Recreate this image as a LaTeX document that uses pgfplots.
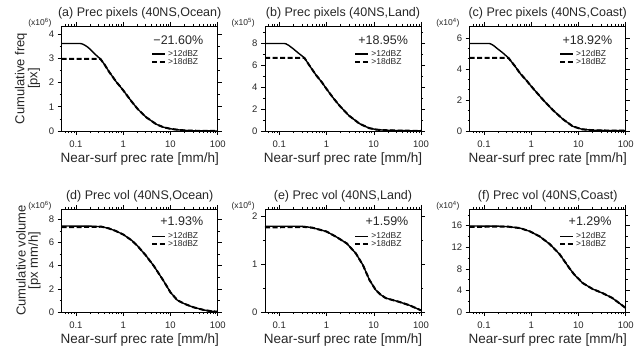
\documentclass[border=0pt]{standalone}
\usepackage{fontspec}
\setmainfont{Liberation Sans}
\usepackage{pgfplots}
\pgfplotsset{compat=1.18}
\colorlet{txt}{black!85}
\tikzset{
  s12/.style={black, line width=1.4pt},
  s18/.style={black, line width=2pt, dash pattern=on 5pt off 2.5pt},
  l18/.style={black, dash pattern=on 3.5pt off 2.5pt},
  pct/.style={anchor=east, inner sep=0pt, text=txt, font=\fontsize{12.5}{13}\selectfont},
  mult/.style={anchor=east, inner sep=0pt, xshift=-10pt, yshift=3pt, text=txt, font=\fontsize{8.5}{8.5}\selectfont},
}
\pgfplotsset{
    scale only axis, width=156pt,
    xmin=0.05, xmax=100, ymin=0,
    xtick={0.1,1,10,100}, xticklabels={0.1,1,10,100},
    minor xtick={0.06,0.07,0.08,0.09,0.2,0.3,0.4,0.5,0.6,0.7,0.8,0.9,2,3,4,5,6,7,8,9,20,30,40,50,60,70,80,90},
    tick align=outside, major tick length=4pt, minor tick length=2.2pt,
    tick style={black, line width=0.5pt},
    axis line style={line width=0.6pt},
    tick label style={font=\fontsize{9.5}{10}\selectfont, text=txt},
    xticklabel style={yshift=-2.5pt},
    title style={font=\fontsize{12.5}{13}\selectfont, text=txt, at={(0.5,1)}, anchor=base, yshift=3.5pt},
    xlabel style={font=\fontsize{13.5}{14}\selectfont, text=txt, at={(0.5,0)}, anchor=base, yshift=-32pt},
    legend style={draw=none, fill=none, font=\fontsize{8.5}{8.5}\selectfont, text=txt, at={(0.572,0.695)}, anchor=west, row sep=-4pt, inner sep=0pt, cells={anchor=west}},
    legend image code/.code={\draw[#1, line width=0.5pt] (0pt,0pt) -- (11pt,0pt); \path (0pt,0pt) -- (13pt,0pt);},
}
\begin{document}
\begin{tikzpicture}
\path[use as bounding box] (0pt,0pt) rectangle (635pt,353pt);

% ---------- (a)
\begin{axis}[xmode=log, clip=false, at={(61.7pt,222pt)}, anchor=south west, height=105pt,
  /pgf/number format/assume math mode=true,
  xlabel={Near-surf prec rate [mm/h]},
  ymax=4.33, ytick={0,1,2,3,4}, minor ytick={0.5,1.5,2.5,3.5},
  title={(a) Prec pixels (40NS,Ocean)}]
\addplot[s12] coordinates {(0.05,3.61)(0.12,3.61)(0.13,3.60)(0.14,3.58)(0.16,3.52)(0.18,3.45)(0.2,3.37)(0.25,3.18)(0.3,3.04)(0.33,2.97)(0.4,2.75)(0.5,2.45)(0.7,2.05)(1,1.68)(1.5,1.22)(2,0.92)(3,0.58)(5,0.28)(7,0.16)(10,0.09)(15,0.045)(20,0.025)(30,0.012)(50,0.005)(100,0)};
\addplot[s18] coordinates {(0.05,2.97)(0.33,2.97)(0.4,2.75)(0.5,2.45)(0.7,2.05)(1,1.68)(1.5,1.22)(2,0.92)(3,0.58)(5,0.28)(7,0.16)(10,0.09)(15,0.045)(20,0.025)(30,0.012)(50,0.005)(100,0)};
\addlegendimage{black}\addlegendentry{>12dBZ}
\addlegendimage{l18}\addlegendentry{>18dBZ}
\node[pct] at (rel axis cs:0.908,0.865) {−21.60\%};
\node[mult] at (rel axis cs:0,1) {(x10\textsuperscript{6})};
\end{axis}

% ---------- (b)
\begin{axis}[xmode=log, clip=false, at={(265pt,222pt)}, anchor=south west, height=105pt,
  /pgf/number format/assume math mode=true,
  xlabel={Near-surf prec rate [mm/h]},
  ymax=9.6, ytick={0,2,4,6,8}, minor ytick={1,3,5,7,9},
  title={(b) Prec pixels (40NS,Land)}]
\addplot[s12] coordinates {(0.05,8.0)(0.13,8.0)(0.14,7.96)(0.16,7.82)(0.2,7.5)(0.25,7.15)(0.3,6.88)(0.34,6.69)(0.45,5.9)(0.6,5.12)(0.8,4.45)(1,3.85)(1.4,3.0)(1.9,2.3)(3,1.4)(5,0.67)(8,0.26)(11.7,0.12)(20,0.06)(40,0.03)(100,0.01)};
\addplot[s18] coordinates {(0.05,6.69)(0.34,6.69)(0.45,5.9)(0.6,5.12)(0.8,4.45)(1,3.85)(1.4,3.0)(1.9,2.3)(3,1.4)(5,0.67)(8,0.26)(11.7,0.12)(20,0.06)(40,0.03)(100,0.01)};
\addlegendimage{black}\addlegendentry{>12dBZ}
\addlegendimage{l18}\addlegendentry{>18dBZ}
\node[pct] at (rel axis cs:0.918,0.86) {+18.95\%};
\node[mult] at (rel axis cs:0,1) {(x10\textsuperscript{5})};
\end{axis}

% ---------- (c)
\begin{axis}[xmode=log, clip=false, at={(469.7pt,222pt)}, anchor=south west, height=105pt,
  /pgf/number format/assume math mode=true,
  xlabel={Near-surf prec rate [mm/h]},
  ymax=6.78, ytick={0,2,4,6}, minor ytick={0.667,1.333,2.667,3.333,4.667,5.333},
  title={(c) Prec pixels (40NS,Coast)}]
\addplot[s12] coordinates {(0.05,5.65)(0.13,5.65)(0.14,5.62)(0.16,5.52)(0.19,5.33)(0.25,5.05)(0.33,4.72)(0.45,4.2)(0.58,3.73)(0.8,3.25)(1.02,2.86)(1.4,2.38)(1.8,2.0)(2.9,1.34)(4.7,0.76)(7.6,0.3)(12,0.11)(20,0.05)(40,0.03)(100,0.02)};
\addplot[s18] coordinates {(0.05,4.72)(0.33,4.72)(0.45,4.2)(0.58,3.73)(0.8,3.25)(1.02,2.86)(1.4,2.38)(1.8,2.0)(2.9,1.34)(4.7,0.76)(7.6,0.3)(12,0.11)(20,0.05)(40,0.03)(100,0.02)};
\addlegendimage{black}\addlegendentry{>12dBZ}
\addlegendimage{l18}\addlegendentry{>18dBZ}
\node[pct] at (rel axis cs:0.915,0.86) {+18.92\%};
\node[mult] at (rel axis cs:0,1) {(x10\textsuperscript{4})};
\end{axis}

% ---------- (d)
\begin{axis}[xmode=log, clip=false, at={(61.7pt,41pt)}, anchor=south west, height=103pt,
  /pgf/number format/assume math mode=true,
  xlabel={Near-surf prec rate [mm/h]},
  ymax=8.9, ytick={0,2,4,6,8}, minor ytick={1,3,5,7},
  title={(d) Prec vol (40NS,Ocean)}]
\addplot[s12] coordinates {(0.05,7.43)(0.2,7.42)(0.35,7.37)(0.5,7.22)(0.7,7.0)(1,6.7)(1.5,6.2)(2,5.72)(3,4.9)(4.5,3.95)(7,2.75)(10,1.7)(14,1.02)(20,0.7)(30,0.42)(50,0.18)(70,0.08)(100,0.02)};
\addplot[s18] coordinates {(0.05,7.33)(0.2,7.35)(0.35,7.37)(0.5,7.22)(0.7,7.0)(1,6.7)(1.5,6.2)(2,5.72)(3,4.9)(4.5,3.95)(7,2.75)(10,1.7)(14,1.02)(20,0.7)(30,0.42)(50,0.18)(70,0.08)(100,0.02)};
\addlegendimage{black}\addlegendentry{>12dBZ}
\addlegendimage{l18}\addlegendentry{>18dBZ}
\node[pct] at (rel axis cs:0.908,0.877) {+1.93\%};
\node[mult] at (rel axis cs:0,1) {(x10\textsuperscript{6})};
\end{axis}

% ---------- (e)
\begin{axis}[xmode=log, clip=false, at={(265pt,41pt)}, anchor=south west, height=103pt,
  /pgf/number format/assume math mode=true,
  xlabel={Near-surf prec rate [mm/h]},
  ymax=2.15, ytick={0,1,2}, minor ytick={0.5,1.5},
  title={(e) Prec vol (40NS,Land)}]
\addplot[s12] coordinates {(0.05,1.79)(0.2,1.79)(0.34,1.785)(0.5,1.76)(1,1.68)(1.6,1.57)(2.7,1.43)(4.2,1.22)(5.9,0.98)(8.1,0.67)(11,0.46)(14,0.36)(18,0.29)(25,0.25)(35,0.21)(57,0.14)(100,0.035)};
\addplot[s18] coordinates {(0.05,1.765)(0.34,1.775)(0.5,1.76)(1,1.68)(1.6,1.57)(2.7,1.43)(4.2,1.22)(5.9,0.98)(8.1,0.67)(11,0.46)(14,0.36)(18,0.29)(25,0.25)(35,0.21)(57,0.14)(100,0.035)};
\addlegendimage{black}\addlegendentry{>12dBZ}
\addlegendimage{l18}\addlegendentry{>18dBZ}
\node[pct] at (rel axis cs:0.92,0.877) {+1.59\%};
\node[mult] at (rel axis cs:0,1) {(x10\textsuperscript{6})};
\end{axis}

% ---------- (f)
\begin{axis}[xmode=log, clip=false, at={(469.7pt,41pt)}, anchor=south west, height=103pt,
  /pgf/number format/assume math mode=true,
  xlabel={Near-surf prec rate [mm/h]},
  ymax=19.1, ytick={0,4,8,12,16}, minor ytick={2,6,10,14,18},
  title={(f) Prec vol (40NS,Coast)}]
\addplot[s12] coordinates {(0.05,15.95)(0.2,15.92)(0.33,15.82)(0.58,15.56)(0.94,14.95)(1.52,14.0)(2.46,12.6)(3.97,10.75)(6.4,8.15)(8.24,6.9)(12.3,5.37)(20,4.26)(32,3.52)(52,2.6)(100,0.74)};
\addplot[s18] coordinates {(0.05,15.8)(0.33,15.82)(0.58,15.56)(0.94,14.95)(1.52,14.0)(2.46,12.6)(3.97,10.75)(6.4,8.15)(8.24,6.9)(12.3,5.37)(20,4.26)(32,3.52)(52,2.6)(100,0.74)};
\addlegendimage{black}\addlegendentry{>12dBZ}
\addlegendimage{l18}\addlegendentry{>18dBZ}
\node[pct] at (rel axis cs:0.91,0.877) {+1.29\%};
\node[mult] at (rel axis cs:0,1) {(x10\textsuperscript{4})};
\end{axis}

% y labels
\node[rotate=90, text=txt, font=\fontsize{13}{14}\selectfont] at (21pt,274.5pt) {Cumulative freq};
\node[rotate=90, text=txt, font=\fontsize{13}{14}\selectfont] at (34pt,274.5pt) {[px]};
\node[rotate=90, text=txt, font=\fontsize{13}{14}\selectfont] at (21pt,92.5pt) {Cumulative volume};
\node[rotate=90, text=txt, font=\fontsize{13}{14}\selectfont] at (34.5pt,92.5pt) {[px mm/h]};
\end{tikzpicture}
\end{document}
